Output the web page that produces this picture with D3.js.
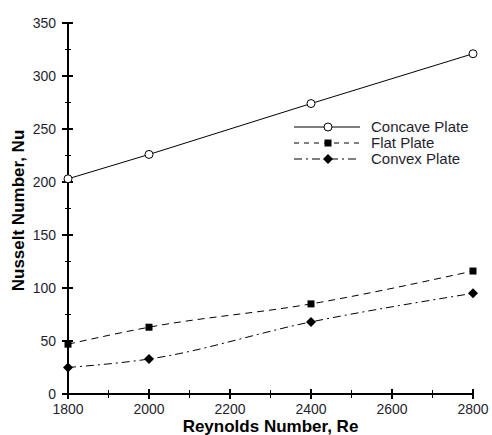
<!DOCTYPE html>
<html>
<head>
<meta charset="utf-8">
<script src="https://cdn.jsdelivr.net/npm/d3@7"></script>
<style>
  html, body { margin: 0; padding: 0; background: #fff; }
  svg { display: block; }
</style>
</head>
<body>
<script>
// Reynolds numbers tested
const reynolds = [1800, 2000, 2400, 2800];
// Nusselt number per plate shape
const concave = [203, 226, 274, 321];
const flat = [47, 63, 85, 116];
const convex = [25, 33, 68, 95];
const seriesNames = ["Concave Plate", "Flat Plate", "Convex Plate"];
const xTicks = [1800, 2000, 2200, 2400, 2600, 2800];
const yTicks = [0, 50, 100, 150, 200, 250, 300, 350];

const W = 492, H = 435;
const m = { left: 68, right: 19, top: 23, bottom: 41 };

const svg = d3.select("body").append("svg").attr("width", W).attr("height", H);

const x = d3.scaleLinear().domain([1800, 2800]).range([m.left, W - m.right]);
const y = d3.scaleLinear().domain([0, 350]).range([H - m.bottom, m.top]);

const font = "Arial, 'Liberation Sans', sans-serif";
const textColor = "#1f1f2f";

// x axis with major ticks every 200 and minor ticks between
const gx = svg.append("g").attr("transform", `translate(0,${y(0)})`);
gx.append("line").attr("x1", x(1800) - 1).attr("x2", x(2800) + 1).attr("stroke", "#000").attr("stroke-width", 2);
d3.range(1800, 2801, 100).forEach(v => {
  const major = v % 200 === 0;
  gx.append("line").attr("x1", x(v)).attr("x2", x(v))
    .attr("y1", major ? -5 : -4).attr("y2", major ? 5 : 4)
    .attr("stroke", "#000").attr("stroke-width", major ? 2 : 1);
});
gx.selectAll("text.tick").data(xTicks).join("text")
  .attr("x", d => x(d)).attr("y", 20)
  .attr("text-anchor", "middle").attr("font-family", font).attr("font-size", 14)
  .attr("fill", textColor).text(d => d);

// y axis with major ticks every 50 and minor ticks between
const gy = svg.append("g").attr("transform", `translate(${x(1800)},0)`);
gy.append("line").attr("y1", y(0) + 1).attr("y2", y(350) - 1).attr("stroke", "#000").attr("stroke-width", 2);
d3.range(0, 351, 25).forEach(v => {
  const major = v % 50 === 0;
  gy.append("line").attr("y1", y(v)).attr("y2", y(v))
    .attr("x1", major ? -6 : -3).attr("x2", major ? 5 : 3)
    .attr("stroke", "#000").attr("stroke-width", major ? 2 : 1);
});
gy.selectAll("text.tick").data(yTicks).join("text")
  .attr("x", -12).attr("y", d => y(d) + 5)
  .attr("text-anchor", "end").attr("font-family", font).attr("font-size", 14)
  .attr("fill", textColor).text(d => d);

// axis titles
svg.append("text").attr("x", (x(1800) + x(2800)) / 2).attr("y", 432)
  .attr("text-anchor", "middle").attr("font-family", font).attr("font-size", 17)
  .attr("font-weight", "bold").text("Reynolds Number, Re");
svg.append("text")
  .attr("transform", `translate(24,${(y(0) + y(350)) / 2 + 2}) rotate(-90)`)
  .attr("text-anchor", "middle").attr("font-family", font).attr("font-size", 17)
  .attr("font-weight", "bold").text("Nusselt Number, Nu");

const styles = [
  { values: concave, dash: null, legendDash: null, marker: "circle", curve: d3.curveLinear },
  { values: flat, dash: "7,5", legendDash: "5,5", marker: "square", curve: d3.curveMonotoneX },
  { values: convex, dash: "8,4,2,4", legendDash: "8,4,2,4", marker: "diamond", curve: d3.curveMonotoneX }
];

function drawMarker(g, type, cx, cy) {
  if (type === "circle") {
    g.append("circle").attr("cx", cx).attr("cy", cy).attr("r", 4)
      .attr("fill", "#fff").attr("stroke", "#000").attr("stroke-width", 1);
  } else if (type === "square") {
    g.append("rect").attr("x", cx - 3.5).attr("y", cy - 3.5).attr("width", 7).attr("height", 7).attr("fill", "#000");
  } else {
    g.append("path").attr("d", `M${cx},${cy - 5}L${cx + 5},${cy}L${cx},${cy + 5}L${cx - 5},${cy}Z`).attr("fill", "#000");
  }
}

styles.forEach(s => {
  const pts = reynolds.map((r, i) => [x(r), y(s.values[i])]);
  svg.append("path").attr("d", d3.line().curve(s.curve)(pts))
    .attr("fill", "none").attr("stroke", "#000").attr("stroke-width", 1)
    .attr("stroke-dasharray", s.dash);
  const g = svg.append("g");
  pts.forEach(p => drawMarker(g, s.marker, p[0], p[1]));
});

// legend
const lg = svg.append("g");
const legendY = [127, 143, 159];
styles.forEach((s, i) => {
  const ly = legendY[i];
  lg.append("line").attr("x1", 294).attr("x2", 360).attr("y1", ly).attr("y2", ly)
    .attr("stroke", "#000").attr("stroke-width", 1).attr("stroke-dasharray", s.legendDash);
  drawMarker(lg, s.marker, 328, ly);
  lg.append("text").attr("x", 371).attr("y", ly + 5)
    .attr("font-family", font).attr("font-size", 15).attr("fill", textColor)
    .text(seriesNames[i]);
});
</script>
</body>
</html>
